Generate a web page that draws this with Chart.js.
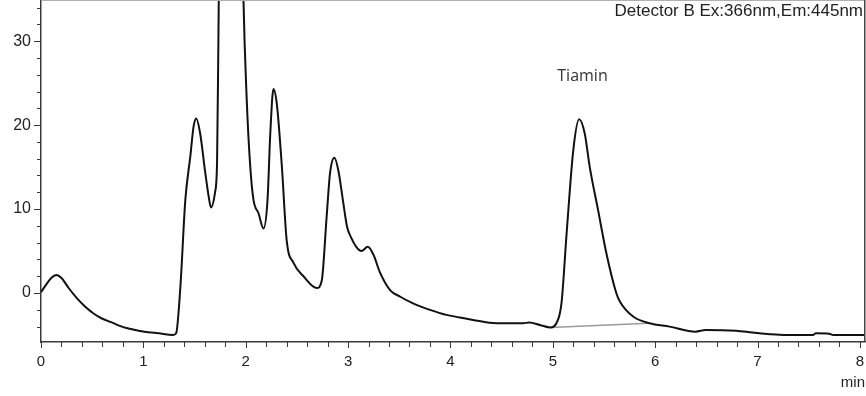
<!DOCTYPE html>
<html>
<head>
<meta charset="utf-8">
<script src="https://cdn.jsdelivr.net/npm/chart.js@4/dist/chart.umd.min.js"></script>
<style>
  html, body { margin: 0; padding: 0; background: #ffffff; }
  #wrap { width: 866px; height: 396px; }
</style>
</head>
<body>
<div id="wrap"><canvas id="c" width="866" height="396"></canvas></div>
<script>
// ---- data ----
const timeMin = [
  0.00, 0.05, 0.10, 0.15, 0.20, 0.27, 0.35, 0.43, 0.51, 0.59, 0.69, 0.79, 0.90, 1.01, 1.15, 1.29,
  1.32, 1.361, 1.41, 1.459, 1.49, 1.517, 1.555, 1.605, 1.638, 1.66, 1.70, 1.72, 1.733, 1.745, 1.855,
  1.965, 1.978, 2.01, 2.044, 2.076, 2.125, 2.174, 2.213, 2.24, 2.271, 2.304, 2.353, 2.40,
  2.467, 2.564, 2.695, 2.743, 2.79, 2.824, 2.866, 2.905, 2.95, 2.99, 3.03, 3.08, 3.13, 3.192, 3.25,
  3.31, 3.41, 3.51, 3.635, 3.80, 3.96, 4.09, 4.22, 4.45, 4.61, 4.71, 4.77, 4.875, 4.977, 5.035, 5.085,
  5.135, 5.20, 5.257, 5.312, 5.361, 5.442, 5.524, 5.62, 5.655, 5.785, 5.945, 6.14, 6.395, 6.495, 6.79,
  6.95, 7.12, 7.28, 7.54, 7.57, 7.70, 7.74, 8.05
];
const signal = [
  0.1, 1.0, 1.8, 2.15, 1.8, 0.6, -0.6, -1.6, -2.4, -3.0, -3.5, -4.0, -4.35, -4.6, -4.8, -5.0,
  -4.8, 0.6, 11.1, 16.3, 19.8, 20.8, 19.0, 14.3, 11.5, 10.2, 12.0, 15.5, 30.0, 45.0, 80.0,
  45.0, 35.0, 23.0, 15.1, 11.1, 9.5, 7.7, 11.1, 19.0, 24.3, 22.5, 15.1, 6.3,
  3.6, 2.0, 0.6, 1.5, 9.0, 14.3, 16.1, 14.6, 11.0, 7.9, 6.6, 5.5, 5.0, 5.5, 4.5,
  2.5, 0.36, -0.44, -1.23, -2.0, -2.6, -2.9, -3.2, -3.6, -3.6, -3.6, -3.5, -3.8, -4.1, -3.6, -1.2,
  7.1, 17.0, 20.7, 19.0, 15.0, 9.9, 4.7, 0.0, -1.0, -2.8, -3.6, -4.0, -4.6, -4.4, -4.5,
  -4.7, -4.9, -5.0, -5.0, -4.8, -4.85, -5.0, -5.0
];
// integration baseline under the Tiamin peak
const baseTime = [4.977, 5.935];
const baseSignal = [-4.1, -3.6];

// axis ticks
const xTickValues = [];
for (let i = 0; i <= 40; i++) xTickValues.push(Math.round(i * 2) / 10);
const yTickValues = [];
for (let v = -4; v <= 34; v += 2) yTickValues.push(v);
const xTickLabels = ["0", "1", "2", "3", "4", "5", "6", "7", "8"];
const yTickLabels = ["0", "10", "20", "30"];

const peakLabel = { text: "Tiamin", t: 5.29, y: 25.3 };
const detectorText = "Detector B Ex:366nm,Em:445nm";

// ---- build chart ----
const trace = timeMin.map((t, i) => ({ x: t, y: signal[i] }));
const base = baseTime.map((t, i) => ({ x: t, y: baseSignal[i] }));

const axisColor = '#3a3a3a';
const tickFont = { family: "'Liberation Sans', Arial, sans-serif", size: 15 };
const yTickFont = { family: "'Liberation Sans', Arial, sans-serif", size: 16 };

const decor = {
  id: 'decor',
  afterDraw(chart) {
    const ctx = chart.ctx;
    const xs = chart.scales.x, ys = chart.scales.y;
    const a = chart.chartArea;
    ctx.save();
    // tick marks
    ctx.strokeStyle = axisColor;
    ctx.lineWidth = 1;
    xTickValues.forEach(v => {
      const px = Math.round(xs.getPixelForValue(v)) + 0.5;
      const major = Math.abs(v - Math.round(v)) < 1e-6;
      ctx.beginPath();
      ctx.moveTo(px, a.bottom);
      ctx.lineTo(px, a.bottom + (major ? 6 : 5));
      ctx.stroke();
    });
    yTickValues.forEach(v => {
      const py = Math.round(ys.getPixelForValue(v)) + 0.5;
      const major = v % 10 === 0;
      ctx.beginPath();
      ctx.moveTo(a.left, py);
      ctx.lineTo(a.left - (major ? 7 : 4), py);
      ctx.stroke();
    });
    // frame: top (light) and right (dark)
    ctx.strokeStyle = '#b0b0b0';
    ctx.beginPath();
    ctx.moveTo(a.left, 0.5);
    ctx.lineTo(a.right, 0.5);
    ctx.stroke();
    ctx.strokeStyle = '#444';
    ctx.lineWidth = 1.5;
    ctx.beginPath();
    ctx.moveTo(a.right - 0.25, 0);
    ctx.lineTo(a.right - 0.25, a.bottom);
    ctx.stroke();
    // texts
    ctx.fillStyle = '#222';
    ctx.font = "17px 'Liberation Sans', Arial, sans-serif";
    ctx.textAlign = 'right';
    ctx.textBaseline = 'alphabetic';
    ctx.fillText(detectorText, a.right - 2, 16);
    ctx.font = "16px 'Open Sans', sans-serif";
    ctx.textAlign = 'center';
    ctx.fillStyle = '#333';
    ctx.fillText(peakLabel.text, xs.getPixelForValue(peakLabel.t), ys.getPixelForValue(peakLabel.y));
    ctx.restore();
  }
};

new Chart(document.getElementById('c'), {
  type: 'line',
  data: {
    datasets: [
      {
        data: trace,
        borderColor: '#111111',
        borderWidth: 2,
        pointRadius: 0,
        fill: false,
        cubicInterpolationMode: 'monotone'
      },
      {
        data: base,
        borderColor: '#9a9a9a',
        borderWidth: 1.5,
        pointRadius: 0,
        fill: false
      }
    ]
  },
  options: {
    responsive: false,
    animation: false,
    devicePixelRatio: 1,
    layout: { padding: { top: 0, right: 1, bottom: 0, left: 0 } },
    plugins: { legend: { display: false }, tooltip: { enabled: false } },
    scales: {
      x: {
        type: 'linear',
        min: 0,
        max: 8.05,
        afterBuildTicks: s => { s.ticks = xTickValues.map(v => ({ value: v })); },
        afterFit: s => { s.height = 54; s.paddingLeft = 0; s.paddingRight = 0; },
        ticks: {
          autoSkip: false,
          maxRotation: 0,
          padding: 11,
          color: '#222',
          font: tickFont,
          callback: v => {
            const r = Math.round(v);
            return Math.abs(v - r) < 1e-6 ? xTickLabels[r] : '';
          }
        },
        grid: { display: false, drawTicks: false, tickLength: 0 },
        border: { display: true, color: axisColor, width: 1.5 },
        title: {
          display: true,
          text: 'min',
          align: 'end',
          color: '#222',
          font: tickFont,
          padding: { top: 0, bottom: 4 }
        }
      },
      y: {
        type: 'linear',
        min: -5.83,
        max: 34.9,
        afterBuildTicks: s => { s.ticks = yTickValues.map(v => ({ value: v })); },
        afterFit: s => { s.width = 41; s.paddingTop = 0; s.paddingBottom = 0; },
        ticks: {
          autoSkip: false,
          padding: 10,
          color: '#222',
          font: yTickFont,
          callback: v => (v % 10 === 0 ? yTickLabels[v / 10] : '')
        },
        grid: { display: false, drawTicks: false, tickLength: 0 },
        border: { display: true, color: axisColor, width: 1.5 }
      }
    }
  },
  plugins: [decor]
});
</script>
</body>
</html>
